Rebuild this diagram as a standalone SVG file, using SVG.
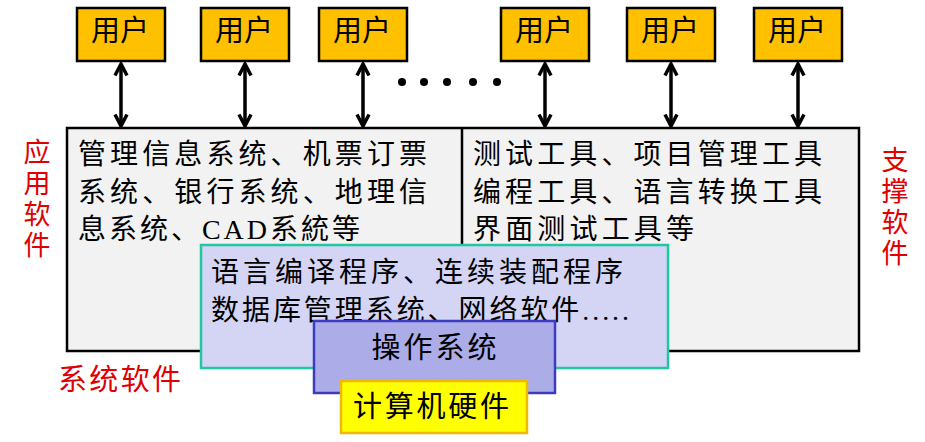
<svg xmlns="http://www.w3.org/2000/svg" width="925" height="442" viewBox="0 0 925 442">
<defs>
<style>
.user rect{fill:#FFC000;stroke:#000;stroke-width:2.5}
.t{font-family:"Liberation Serif","Noto Sans CJK SC",serif;fill:#000}
.ut{font-size:29px;text-anchor:middle;dominant-baseline:central}
.body{font-size:28px;dominant-baseline:central}
.red{font-family:"Noto Sans CJK SC",sans-serif;fill:#E00000;font-size:27px}
.vert{writing-mode:tb;letter-spacing:4px}
.conn{stroke:#000;stroke-width:3.5;fill:none}
</style>
<marker id="ah" viewBox="0 0 16 16" refX="14" refY="8" markerWidth="16" markerHeight="16" orient="auto-start-reverse" markerUnits="userSpaceOnUse">
<path d="M2.5,2 L14,8 L2.5,14" fill="none" stroke="#000" stroke-width="3.5" stroke-linejoin="miter"/>
</marker>
</defs>
<rect width="925" height="442" fill="#fff"/>

<g id="main-box">
<rect x="67" y="128" width="792" height="223" fill="#F2F2F2" stroke="#000" stroke-width="2.5"/>
<line x1="462" y1="128" x2="462" y2="351" stroke="#000" stroke-width="2.5"/>
</g>

<g id="app-software-text" class="t body">
<text x="78" y="154" textLength="349" lengthAdjust="spacing">管理信息系统、机票订票</text>
<text x="78" y="192" textLength="349" lengthAdjust="spacing">系统、银行系统、地理信</text>
<text x="78" y="229" textLength="282" lengthAdjust="spacing">息系统、CAD系統等</text>
</g>

<g id="support-software-text" class="t body">
<text x="473" y="154" textLength="349" lengthAdjust="spacing">测试工具、项目管理工具</text>
<text x="473" y="192" textLength="349" lengthAdjust="spacing">编程工具、语言转换工具</text>
<text x="473" y="229" textLength="221" lengthAdjust="spacing">界面测试工具等</text>
</g>

<g id="system-software">
<rect x="201" y="245" width="467" height="123" fill="#D4D4F4" stroke="#20C8A0" stroke-width="2.5"/>
<text class="t body" x="211" y="272" font-size="27" textLength="412" lengthAdjust="spacing">语言编译程序、连续装配程序</text>
<text class="t body" x="211" y="310" font-size="27" textLength="418" lengthAdjust="spacing">数据库管理系统、网络软件.....</text>
</g>

<g id="os">
<rect x="314" y="321" width="241" height="72" fill="#ACACE8" stroke="#3C3CC0" stroke-width="2.5"/>
<text class="t ut" x="434" y="348" font-size="30" textLength="125" lengthAdjust="spacing">操作系统</text>
</g>

<g id="hardware">
<rect x="341" y="381" width="186" height="52" fill="#FFFF00" stroke="#F0B800" stroke-width="2.5"/>
<text class="t ut" x="431" y="407" font-size="30" textLength="156" lengthAdjust="spacing">计算机硬件</text>
</g>

<g id="user1" class="user"><rect x="77" y="8" width="88" height="53"/><text class="t ut" x="120" y="31">用户</text></g>
<g id="user2" class="user"><rect x="201" y="8" width="88" height="53"/><text class="t ut" x="244" y="31">用户</text></g>
<g id="user3" class="user"><rect x="319" y="8" width="88" height="53"/><text class="t ut" x="362" y="31">用户</text></g>
<g id="user4" class="user"><rect x="501" y="8" width="88" height="53"/><text class="t ut" x="544" y="31">用户</text></g>
<g id="user5" class="user"><rect x="627" y="8" width="88" height="53"/><text class="t ut" x="670" y="31">用户</text></g>
<g id="user6" class="user"><rect x="754" y="8" width="88" height="53"/><text class="t ut" x="797" y="31">用户</text></g>

<g id="ellipsis" fill="#000">
<circle cx="402" cy="82" r="4"/><circle cx="424" cy="82" r="4"/><circle cx="447" cy="82" r="4"/><circle cx="473" cy="82" r="4"/><circle cx="497" cy="82" r="4"/>
</g>

<g id="connectors">
<path class="conn" d="M121,64 V126" marker-start="url(#ah)" marker-end="url(#ah)"/>
<path class="conn" d="M245,64 V126" marker-start="url(#ah)" marker-end="url(#ah)"/>
<path class="conn" d="M363,64 V126" marker-start="url(#ah)" marker-end="url(#ah)"/>
<path class="conn" d="M545,64 V126" marker-start="url(#ah)" marker-end="url(#ah)"/>
<path class="conn" d="M671,64 V126" marker-start="url(#ah)" marker-end="url(#ah)"/>
<path class="conn" d="M798,64 V126" marker-start="url(#ah)" marker-end="url(#ah)"/>
</g>

<g id="label-app" class="red">
<text class="vert" x="37" y="138">应用软件</text>
</g>
<g id="label-support" class="red">
<text class="vert" x="895" y="146">支撑软件</text>
</g>
<g id="label-system" class="red">
<text x="58" y="377" font-size="29" dominant-baseline="central" textLength="123" lengthAdjust="spacing">系统软件</text>
</g>
</svg>
